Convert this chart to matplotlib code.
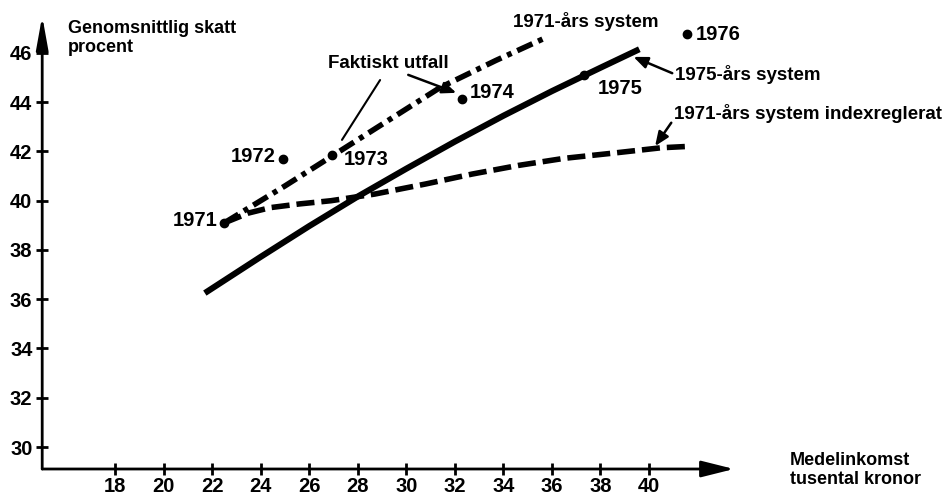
import matplotlib
matplotlib.use("Agg")
import matplotlib.pyplot as plt

plt.rcParams['font.family'] = ['Liberation Sans', 'DejaVu Sans']
plt.rcParams['font.weight'] = 'bold'
plt.rcParams['lines.scale_dashes'] = False

# 1975-års system (solid)
sys75_x = [21.7, 24.0, 26.0, 28.0, 30.0, 32.0, 34.0, 36.0, 38.0, 39.6]
sys75_y = [36.25, 37.72, 38.97, 40.17, 41.3, 42.4, 43.45, 44.45, 45.4, 46.15]

# 1971-års system (dash-dot)
sys71_x = [22.5, 25.0, 27.0, 29.0, 31.4, 33.7, 35.7]
sys71_y = [39.1, 40.6, 41.85, 43.1, 44.6, 45.7, 46.6]

# 1971-års system indexreglerat (dashed)
idx71_x = [22.5, 23.5, 24.4, 25.6, 26.9, 28.7, 30.8, 32.7, 34.6, 36.5, 38.5, 40.5, 41.5]
idx71_y = [39.1, 39.5, 39.72, 39.87, 40.0, 40.27, 40.68, 41.08, 41.43, 41.72, 41.93, 42.15, 42.2]

# Faktiskt utfall
years = ['1971', '1972', '1973', '1974', '1975', '1976']
actual_x = [22.5, 24.9, 26.95, 32.3, 37.3, 41.55]
actual_y = [39.1, 41.7, 41.86, 44.13, 45.1, 46.75]
# label offsets (points) and alignment for each year
year_offsets = [(-5, 2), (-5, 1.5), (8, -3.6), (5.8, 5), (10, -9.4), (6.8, 0)]
year_ha = ['right', 'right', 'left', 'left', 'left', 'left']

xticks = [18, 20, 22, 24, 26, 28, 30, 32, 34, 36, 38, 40]
yticks = [30, 32, 34, 36, 38, 40, 42, 44, 46]

fig = plt.figure(figsize=(9.45, 4.96), dpi=100)
ax = fig.add_axes([42.2 / 945, 27 / 496, (734 - 42.2) / 945, (469 - 16) / 496])
ax.set_xlim(15, 43.5)
ax.set_ylim(29.107, 47.5)
for s in ax.spines.values():
    s.set_visible(False)

# axes with arrow heads
arrow = dict(arrowstyle='-|>,head_length=1.0,head_width=0.25', lw=2, color='black',
             mutation_scale=20, shrinkA=0, shrinkB=0)
ax.annotate('', xy=(1, 0), xytext=(0, 0), xycoords='axes fraction', arrowprops=arrow)
ax.annotate('', xy=(0, 1), xytext=(0, 0), xycoords='axes fraction',
            arrowprops=dict(arrow, arrowstyle='-|>,head_length=1.0,head_width=0.18'))

ax.set_xticks(xticks)
ax.set_yticks(yticks)
ax.tick_params(direction='inout', length=8, width=2, labelsize=14.5, color='black')
ax.tick_params(axis='y', pad=3)
ax.tick_params(axis='x', pad=2)
for lab in ax.get_xticklabels() + ax.get_yticklabels():
    lab.set_fontweight('bold')

ax.plot(sys75_x, sys75_y, color='black', lw=4.4, solid_capstyle='butt')
ax.plot(sys71_x, sys71_y, color='black', lw=4, dashes=(12, 4.5, 3.5, 4.5))
ax.plot(idx71_x, idx71_y, color='black', lw=4, dashes=(13, 5))
ax.plot(actual_x, actual_y, 'o', color='black', ms=6, ls='none')

for yr, x, y, off, ha in zip(years, actual_x, actual_y, year_offsets, year_ha):
    ax.annotate(yr, (x, y), xytext=off, textcoords='offset points',
                ha=ha, va='center', fontsize=14.5, fontweight='bold')

line = dict(arrowstyle='-', lw=1.5, color='black', shrinkA=0, shrinkB=0)
head = dict(arrowstyle='-|>,head_length=0.6,head_width=0.25', lw=1.8, color='black',
            mutation_scale=14, shrinkA=0, shrinkB=0)

ax.text(29.27, 45.59, 'Faktiskt utfall', ha='center', va='center', fontsize=13.5,
        fontweight='bold')
ax.annotate('', xy=(27.35, 42.47), xytext=(28.92, 44.9), arrowprops=line)
ax.annotate('', xy=(32.06, 44.38), xytext=(30.08, 45.11), arrowprops=head)

ax.text(34.4, 47.26, '1971-års system', ha='left', va='center', fontsize=13.5,
        fontweight='bold')
ax.annotate('1975-års system', xy=(39.36, 45.84), xytext=(41.07, 45.13),
            ha='left', va='center', fontsize=13.5, fontweight='bold',
            arrowprops=dict(head, relpos=(0, 0.5)), annotation_clip=False)
ax.annotate('1971-års system indexreglerat', xy=(40.25, 42.22), xytext=(41.03, 43.56),
            ha='left', va='center', fontsize=13.5, fontweight='bold',
            arrowprops=dict(head, relpos=(0, 0.2)), annotation_clip=False)

fig.text(68 / 945, 1 - 20 / 496, 'Genomsnittlig skatt\nprocent', ha='left', va='top',
         fontsize=13, fontweight='bold', linespacing=1.15)
fig.text(790 / 945, 1 - 470 / 496, 'Medelinkomst\ntusental kronor', ha='left',
         va='center', fontsize=13, fontweight='bold', linespacing=1.1)

fig.savefig('out.png', dpi=100)
